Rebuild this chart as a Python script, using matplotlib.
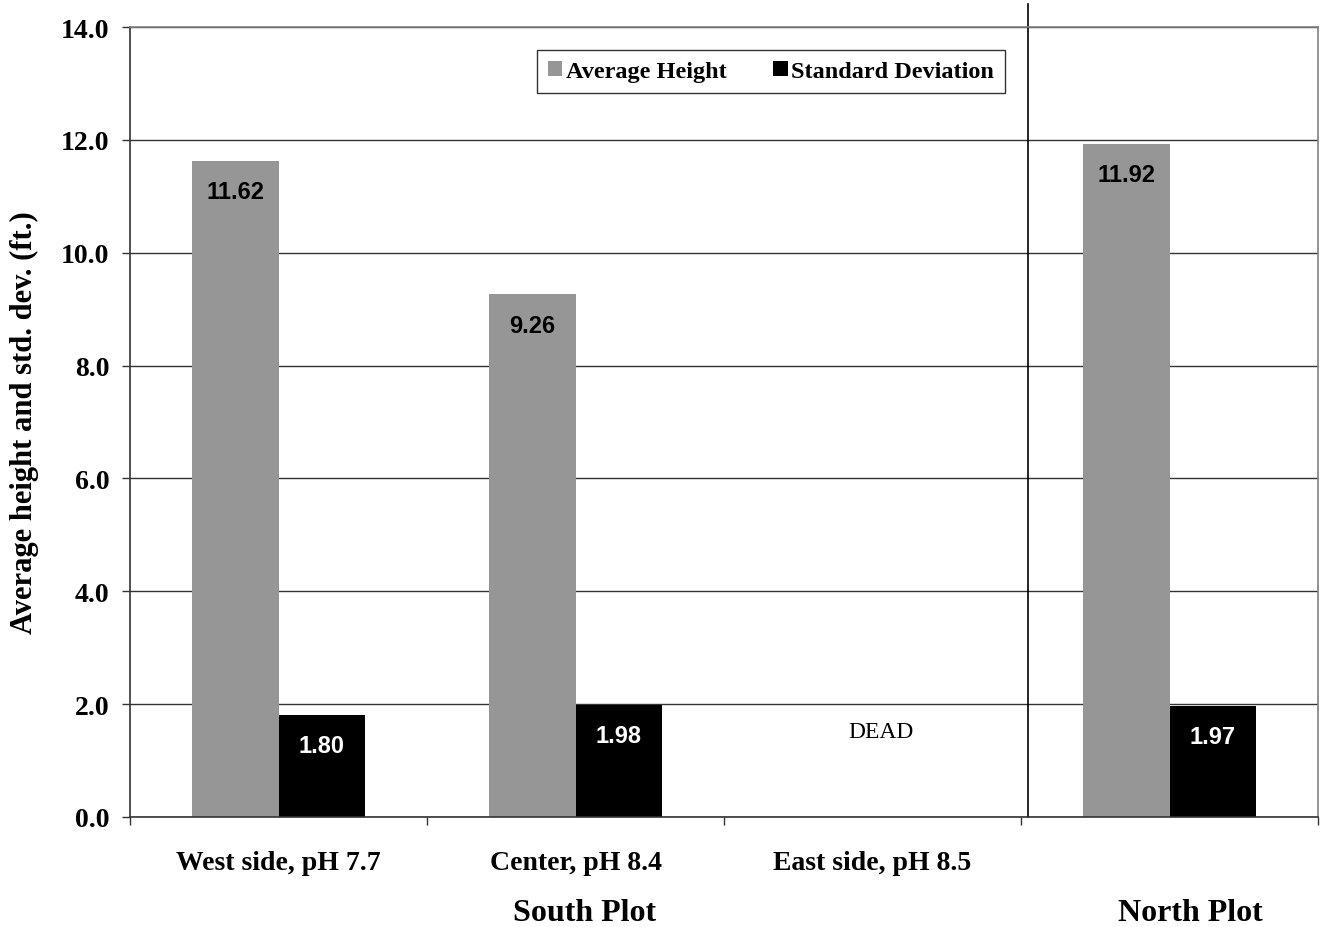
import numpy as np
import matplotlib
matplotlib.use("Agg")
import matplotlib.pyplot as plt
import matplotlib.transforms as mtransforms
from matplotlib.patches import Patch

# data
categories = ["West side, pH 7.7", "Center, pH 8.4", "East side, pH 8.5", ""]
avgHeight = [11.62, 9.26, np.nan, 11.92]
stdDev = [1.80, 1.98, np.nan, 1.97]
groupNames = ["South Plot", "North Plot"]
groupPos = [1.03, 3.07]
yTicks = [0.0, 2.0, 4.0, 6.0, 8.0, 10.0, 12.0, 14.0]

grey = "#969696"
serif = "Liberation Serif"
sans = "Liberation Sans"

fig = plt.figure(figsize=(13.27, 9.28), dpi=100)
ax = fig.add_axes([130/1327, 1-818/928, 1188/1327, 790/928])

x = np.arange(len(categories))
w = 0.29

# grid behind bars
ax.set_axisbelow(True)
ax.yaxis.grid(True, color="#333333", linewidth=1.0)

ax.bar(x - w/2, avgHeight, w, color=grey, label="Average Height")
ax.bar(x + w/2, stdDev, w, color="black", label="Standard Deviation")

for xi, v in zip(x - w/2, avgHeight):
    if not np.isnan(v):
        ax.annotate("{:.2f}".format(v), (xi, v), xytext=(0, -22),
                    textcoords="offset points", ha="center", va="center",
                    fontsize=17, fontweight="bold", family=sans, color="black")
for xi, v in zip(x + w/2, stdDev):
    if not np.isnan(v):
        ax.annotate("{:.2f}".format(v), (xi, v), xytext=(0, -22),
                    textcoords="offset points", ha="center", va="center",
                    fontsize=17, fontweight="bold", family=sans, color="white")

ax.text(2.03, 1.52, "DEAD", ha="center", va="center", fontsize=17, family=serif)

ax.set_xlim(-0.5, 3.5)
ax.set_ylim(0, 14)

# ticks at category boundaries, labels at centres
ax.set_xticks(np.arange(-0.5, 4.0, 1.0))
ax.set_xticklabels([])
ax.set_xticks(x, minor=True)
ax.set_xticklabels(categories, minor=True, fontsize=20, fontweight="bold", family=serif)
ax.tick_params(axis="x", which="major", direction="out", length=6, width=1, color="#333333")
ax.tick_params(axis="x", which="minor", length=0, pad=24)

ax.set_yticks(yTicks)
ax.set_yticklabels(["{:.1f}".format(t) for t in yTicks], fontsize=20, fontweight="bold", family=serif)
ax.tick_params(axis="y", direction="out", length=6, width=1, color="#333333", pad=9)

ax.set_ylabel("Average height and std. dev. (ft.)", fontsize=22, fontweight="bold", family=serif,
              va="center")
ax.yaxis.set_label_coords(-0.089, 0.5)

for s in ["left", "bottom"]:
    ax.spines[s].set_color("#333333")
    ax.spines[s].set_linewidth(1.2)
for s in ["top", "right"]:
    ax.spines[s].set_color("#808080")
    ax.spines[s].set_linewidth(1.2)

# plot separator
ax.plot([2.524, 2.524], [0, 14.41], color="black", linewidth=1.2, clip_on=False)

trans = mtransforms.blended_transform_factory(ax.transData, fig.transFigure)
for name, gx in zip(groupNames, groupPos):
    ax.text(gx, 0.016, name, transform=trans, ha="center", va="center",
            fontsize=23, fontweight="bold", family=serif)

handles = [Patch(facecolor=grey, edgecolor="none"), Patch(facecolor="black", edgecolor="none")]
leg = ax.legend(handles, ["Average Height", "Standard Deviation"], ncol=2, loc="center",
                bbox_to_anchor=(0.5396, 0.944), frameon=True, fancybox=False,
                handlelength=0.6, handleheight=0.6, handletextpad=0.15, columnspacing=1.9,
                borderpad=0.45, borderaxespad=0,
                prop={"family": serif, "weight": "bold", "size": 17.5})
leg.get_frame().set_edgecolor("black")
leg.get_frame().set_linewidth(1.0)

fig.savefig("out.png", dpi=100)
